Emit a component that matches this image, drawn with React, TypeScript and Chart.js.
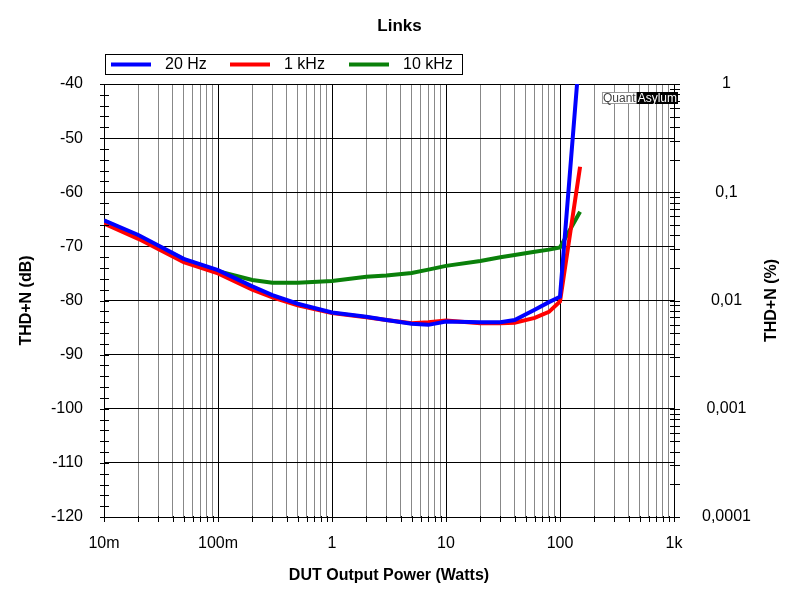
import React, { useEffect, useRef } from "react";
import { Chart, registerables } from "chart.js";

Chart.register(...registerables);

// measured output power (W) and THD+N (dB) per test frequency
const powerW = [0.01, 0.02, 0.05, 0.1, 0.2, 0.3, 0.5, 1, 2, 3, 5, 7, 10, 20, 30, 40, 60, 80, 100, 150];
const thd20Hz = [-65.2, -67.9, -72.3, -74.4, -77.4, -79.0, -80.6, -82.2, -83.0, -83.6, -84.3, -84.5, -83.9, -84.0, -84.0, -83.6, -81.7, -80.3, -79.3, -33];
const thd1kHz = [-65.8, -68.6, -72.9, -75.0, -78.0, -79.4, -80.9, -82.3, -83.1, -83.6, -84.2, -84.0, -83.7, -84.2, -84.2, -84.1, -83.2, -82.1, -80.2, -55.3];
const thd10kHz = [-65.3, -68.2, -72.4, -74.6, -76.2, -76.7, -76.7, -76.4, -75.6, -75.4, -74.9, -74.3, -73.6, -72.7, -72.0, -71.6, -71.0, -70.6, -70.2, -63.6];

const seriesNames = ["20 Hz", "1 kHz", "10 kHz"];
const seriesColors = ["#0000ff", "#ff0000", "#0a800a"];

const xTickLabels = ["10m", "100m", "1", "10", "100", "1k"]; // 1e-2 .. 1e3
const pctTickLabels = ["0,0001", "0,001", "0,01", "0,1", "1"]; // 1e-4 .. 1

const FONT = "Arial, 'Liberation Sans', sans-serif";

const logTicks = (minExp: number, maxExp: number) => {
   const out: number[] = [];
   for (let e = minExp; e < maxExp; e++) {
      for (let m = 1; m < 10; m++) out.push(parseFloat(m + "e" + e));
   }
   out.push(parseFloat("1e" + maxExp));
   return out;
};

const decadeIndex = (v: number, minExp: number) => {
   const l = Math.log10(v);
   const r = Math.round(l);
   if (Math.abs(l - r) > 1e-6) return -1;
   return r - minExp;
};

const decorPlugin = {
   id: "decor",
   afterDraw(chart: any) {
      const { ctx, chartArea } = chart;
      const { left, right, top, bottom } = chartArea;
      ctx.save();

      // tick marks across the axes
      ctx.strokeStyle = "#000";
      ctx.lineWidth = 1;
      const y = chart.scales.y;
      for (let v = -120; v <= -40; v += 2) {
         const py = Math.round(y.getPixelForValue(v)) + 0.5;
         ctx.beginPath();
         ctx.moveTo(left - 4, py);
         ctx.lineTo(left + 5, py);
         ctx.stroke();
      }
      const y2 = chart.scales.y2;
      logTicks(-4, 0).forEach((v) => {
         const py = Math.round(y2.getPixelForValue(v)) + 0.5;
         ctx.beginPath();
         ctx.moveTo(right - 4, py);
         ctx.lineTo(right + 6, py);
         ctx.stroke();
      });
      const x = chart.scales.x;
      logTicks(-2, 3).forEach((v) => {
         const px = Math.round(x.getPixelForValue(v)) + 0.5;
         ctx.beginPath();
         ctx.moveTo(px, bottom - 1);
         ctx.lineTo(px, bottom + 5);
         ctx.stroke();
      });

      // chart title
      ctx.fillStyle = "#000";
      ctx.font = `bold 17px ${FONT}`;
      ctx.textAlign = "center";
      ctx.textBaseline = "middle";
      ctx.fillText("Links", 399.5, 26);

      // right axis title, reading bottom to top
      ctx.save();
      ctx.translate(772, (top + bottom) / 2);
      ctx.rotate(-Math.PI / 2);
      ctx.font = `bold 16px ${FONT}`;
      ctx.fillText("THD+N (%)", 0, 0);
      ctx.restore();

      // legend box
      ctx.strokeStyle = "#000";
      ctx.lineWidth = 1;
      ctx.strokeRect(105.5, 54.5, 357, 20);
      ctx.font = `16px ${FONT}`;
      ctx.textAlign = "left";
      seriesNames.forEach((name, i) => {
         const x0 = 111 + i * 119;
         ctx.strokeStyle = seriesColors[i];
         ctx.lineWidth = 4;
         ctx.beginPath();
         ctx.moveTo(x0, 64.5);
         ctx.lineTo(x0 + 40, 64.5);
         ctx.stroke();
         ctx.fillStyle = "#000";
         ctx.fillText(name, x0 + 54, 65);
      });

      // watermark
      ctx.font = `12px ${FONT}`;
      ctx.textBaseline = "middle";
      const qW = ctx.measureText("Quant").width + 2;
      const aW = ctx.measureText("Asylum").width + 2;
      const wx = 678 - qW - aW;
      ctx.fillStyle = "#fff";
      ctx.fillRect(wx, 92, qW, 12);
      ctx.strokeStyle = "#999";
      ctx.lineWidth = 1;
      ctx.strokeRect(wx + 0.5, 92.5, qW, 11);
      ctx.fillStyle = "#444";
      ctx.fillText("Quant", wx + 1, 98.5);
      ctx.fillStyle = "#000";
      ctx.fillRect(wx + qW, 92, aW, 12);
      ctx.fillStyle = "#fff";
      ctx.fillText("Asylum", wx + qW + 1, 98.5);

      ctx.restore();
   },
};

const ThdChart = () => {
   const chartRef = useRef<HTMLCanvasElement | null>(null);

   useEffect(() => {
      if (!chartRef.current) return;
      const canvas = chartRef.current.getContext("2d");
      if (!canvas) return;

      const series = [thd20Hz, thd1kHz, thd10kHz];
      const chart = new Chart(canvas, {
         type: "line",
         data: {
            datasets: series.map((vals, i) => ({
               label: seriesNames[i],
               data: powerW.map((p, j) => ({ x: p, y: vals[j] })),
               borderColor: seriesColors[i],
               backgroundColor: seriesColors[i],
               borderWidth: 4,
               pointRadius: 0,
               tension: 0,
               yAxisID: "y",
            })),
         },
         options: {
            animation: false,
            responsive: false,
            layout: { padding: { top: 84, left: 0, right: 0, bottom: 0 } },
            plugins: {
               legend: { display: false },
               title: { display: false },
               tooltip: { enabled: false },
            },
            scales: {
               x: {
                  type: "logarithmic",
                  position: "bottom",
                  min: 0.01,
                  max: 1000,
                  afterBuildTicks: (s: any) => {
                     s.ticks = logTicks(-2, 3).map((v) => ({ value: v }));
                  },
                  afterFit: (s: any) => {
                     s.height = 83;
                  },
                  ticks: {
                     autoSkip: false,
                     maxRotation: 0,
                     padding: 17,
                     color: "#000",
                     font: { family: FONT, size: 16 },
                     callback: (v: any) => {
                        const k = decadeIndex(Number(v), -2);
                        return k >= 0 ? xTickLabels[k] : "";
                     },
                  },
                  grid: {
                     drawTicks: false,
                     lineWidth: 1,
                     color: (c: any) =>
                        c.tick && decadeIndex(c.tick.value, -2) >= 0 ? "#000" : "#888888",
                  },
                  border: { color: "#000", width: 1 },
                  title: {
                     display: true,
                     text: "DUT Output Power (Watts)",
                     color: "#000",
                     font: { family: FONT, size: 16, weight: "bold" },
                     padding: { top: 0, bottom: 15 },
                  },
               },
               y: {
                  type: "linear",
                  position: "left",
                  min: -120,
                  max: -40,
                  afterFit: (s: any) => {
                     s.width = 104;
                  },
                  ticks: {
                     stepSize: 2,
                     autoSkip: false,
                     padding: 21,
                     color: "#000",
                     font: { family: FONT, size: 16 },
                     callback: (v: any) => (Number(v) % 10 === 0 ? String(v) : ""),
                  },
                  grid: {
                     drawTicks: false,
                     lineWidth: 1,
                     color: (c: any) =>
                        c.tick && c.tick.value % 10 === 0 ? "#000" : "rgba(0,0,0,0)",
                  },
                  border: { color: "#000", width: 1 },
                  title: {
                     display: true,
                     text: "THD+N (dB)",
                     color: "#000",
                     font: { family: FONT, size: 16, weight: "bold" },
                     padding: { top: 17, bottom: 0 },
                  },
               },
               y2: {
                  type: "logarithmic",
                  position: "right",
                  min: 0.0001,
                  max: 1,
                  afterBuildTicks: (s: any) => {
                     s.ticks = logTicks(-4, 0).map((v) => ({ value: v }));
                  },
                  afterFit: (s: any) => {
                     s.width = 126;
                  },
                  ticks: {
                     autoSkip: false,
                     padding: 20,
                     crossAlign: "center",
                     color: "#000",
                     font: { family: FONT, size: 16 },
                     callback: (v: any) => {
                        const k = decadeIndex(Number(v), -4);
                        return k >= 0 ? pctTickLabels[k] : "";
                     },
                  },
                  grid: { display: false },
                  border: { display: true, color: "#000", width: 1 },
               },
            },
         } as any,
         plugins: [decorPlugin],
      });

      return () => {
         chart.destroy();
      };
   }, []);

   return (
      <div style={{ position: "fixed", left: 0, top: 0, width: 800, height: 600, background: "#fff" }}>
         <canvas ref={chartRef} width={800} height={600} />
      </div>
   );
};

export default function App() {
   return <ThdChart />;
}
